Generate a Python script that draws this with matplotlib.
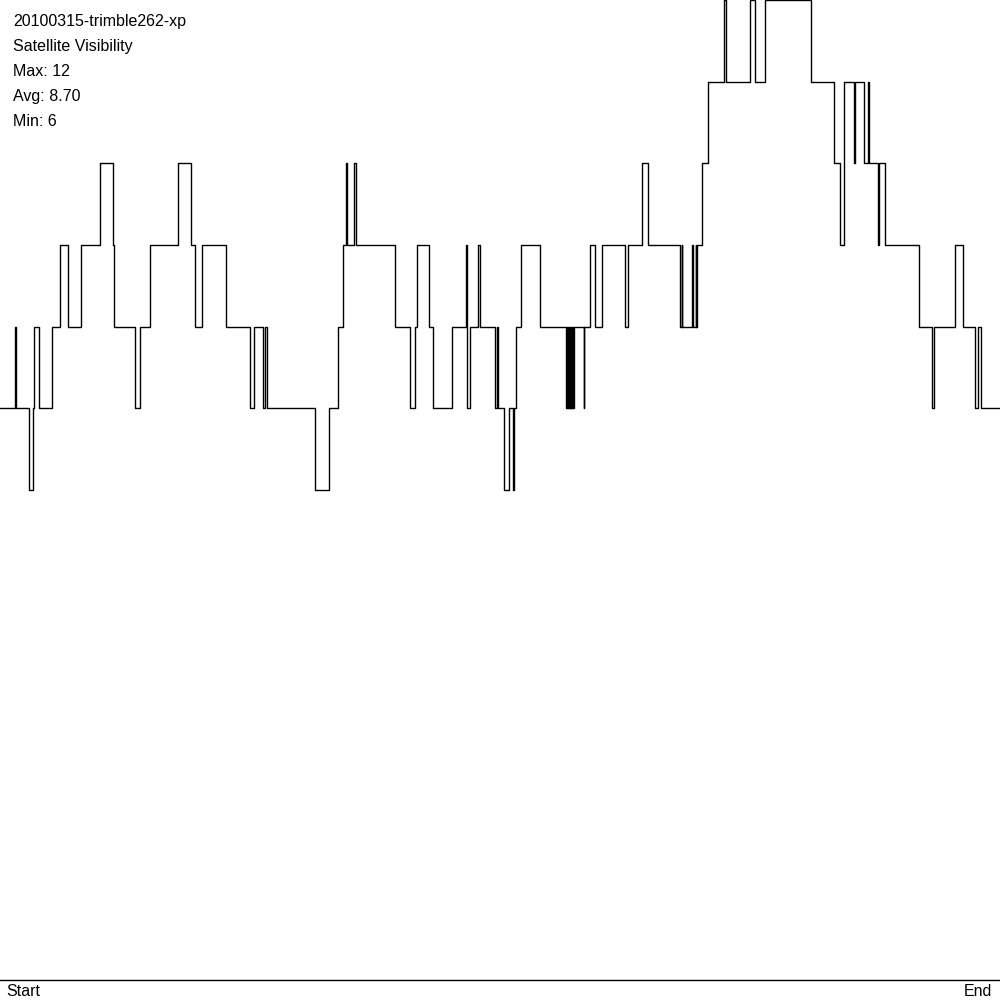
import matplotlib
matplotlib.use('Agg')
import matplotlib.pyplot as plt

# visible satellites, step changes (x in 0..1000 of the recording span)
change_x = [0, 15.3, 16.2, 29.3, 33.3, 34.3, 39.3, 52.3, 60.3, 68.3,
            81.3, 100.3, 113.3, 114.3, 135.3, 140.3, 150.3, 178.3, 191.3, 195.3,
            202.3, 226.3, 250.3, 253.7, 263.3, 265.3, 267.3, 315.3, 329.3, 338.3,
            343.3, 346.4, 347.2, 354.3, 356.3, 395.3, 409.7, 415.0, 417.0, 429.3,
            433.3, 452.3, 466.3, 467.0, 470.3, 478.3, 480.3, 495.3, 497.3, 498.0,
            504.3, 509.3, 513.0, 513.7, 516.3, 521.3, 540.3,
            566.0, 566.5, 567.0, 567.5, 568.0, 568.5, 569.0, 569.5,
            570.0, 570.5, 571.0, 571.5, 572.0, 572.5, 573.0, 573.5,
            583.5, 584.3, 590.0, 595.3, 602.3, 625.3, 628.3, 641.7, 648.3, 680.0,
            681.5, 682.0, 692.0, 693.3, 695.7, 696.2, 696.7, 702.3, 708.3, 723.7,
            726.3, 749.7, 755.3, 765.3, 811.3, 834.3, 840.3, 844.3, 854.2, 854.6,
            864.3, 868.3, 869.1, 878.3, 878.8, 885.3, 919.3, 931.7, 933.7, 954.7,
            963.3, 975.3, 978.3, 981.3]
sats = [7, 8, 7, 6, 7, 8, 7, 8, 9, 8,
        9, 10, 9, 8, 7, 8, 9, 10, 9, 8,
        9, 8, 7, 8, 7, 8, 7, 6, 7, 8,
        9, 10, 9, 10, 9, 8, 7, 8, 9, 8,
        7, 8, 9, 7, 8, 9, 8, 7, 8, 7,
        6, 7, 6, 7, 8, 9, 8,
        7, 8, 7, 8, 7, 8, 7, 8,
        7, 8, 7, 8, 7, 8, 7, 8,
        7, 8, 9, 8, 9, 8, 9, 10, 9, 8,
        9, 8, 9, 8, 9, 8, 9, 10, 11, 12,
        11, 12, 11, 12, 11, 10, 9, 11, 10, 11,
        10, 11, 10, 9, 10, 9, 8, 7, 8, 9,
        8, 7, 8, 7]
x_end = 1000

title_lines = ['20100315-trimble262-xp', 'Satellite Visibility',
               'Max: 12', 'Avg: 8.70', 'Min: 6']

plt.rcParams['font.family'] = ['Liberation Sans', 'DejaVu Sans']

fig = plt.figure(figsize=(10, 10), dpi=100, facecolor='white')
ax = fig.add_axes([0, 0.02, 1, 0.98])
ax.set_xlim(0, x_end)
ax.set_ylim(0, 12)
ax.axis('off')

ax.step(change_x + [x_end], sats + [sats[-1]], where='post',
        color='black', linewidth=1.0, clip_on=False)
ax.axhline(0, color='black', linewidth=1.0, clip_on=False)

# header texts top left
for i, txt in enumerate(title_lines):
    fig.text(13 / 1000, 1 - (26 + 25 * i) / 1000, txt, fontsize=11.5,
             va='baseline', ha='left', color='black')

fig.text(6 / 1000, 1 - 996 / 1000, 'Start', fontsize=11.5, va='baseline', ha='left')
fig.text(992 / 1000, 1 - 996 / 1000, 'End', fontsize=11.5, va='baseline', ha='right')

fig.savefig('out.png', dpi=100, facecolor='white')
plt.close('all')
